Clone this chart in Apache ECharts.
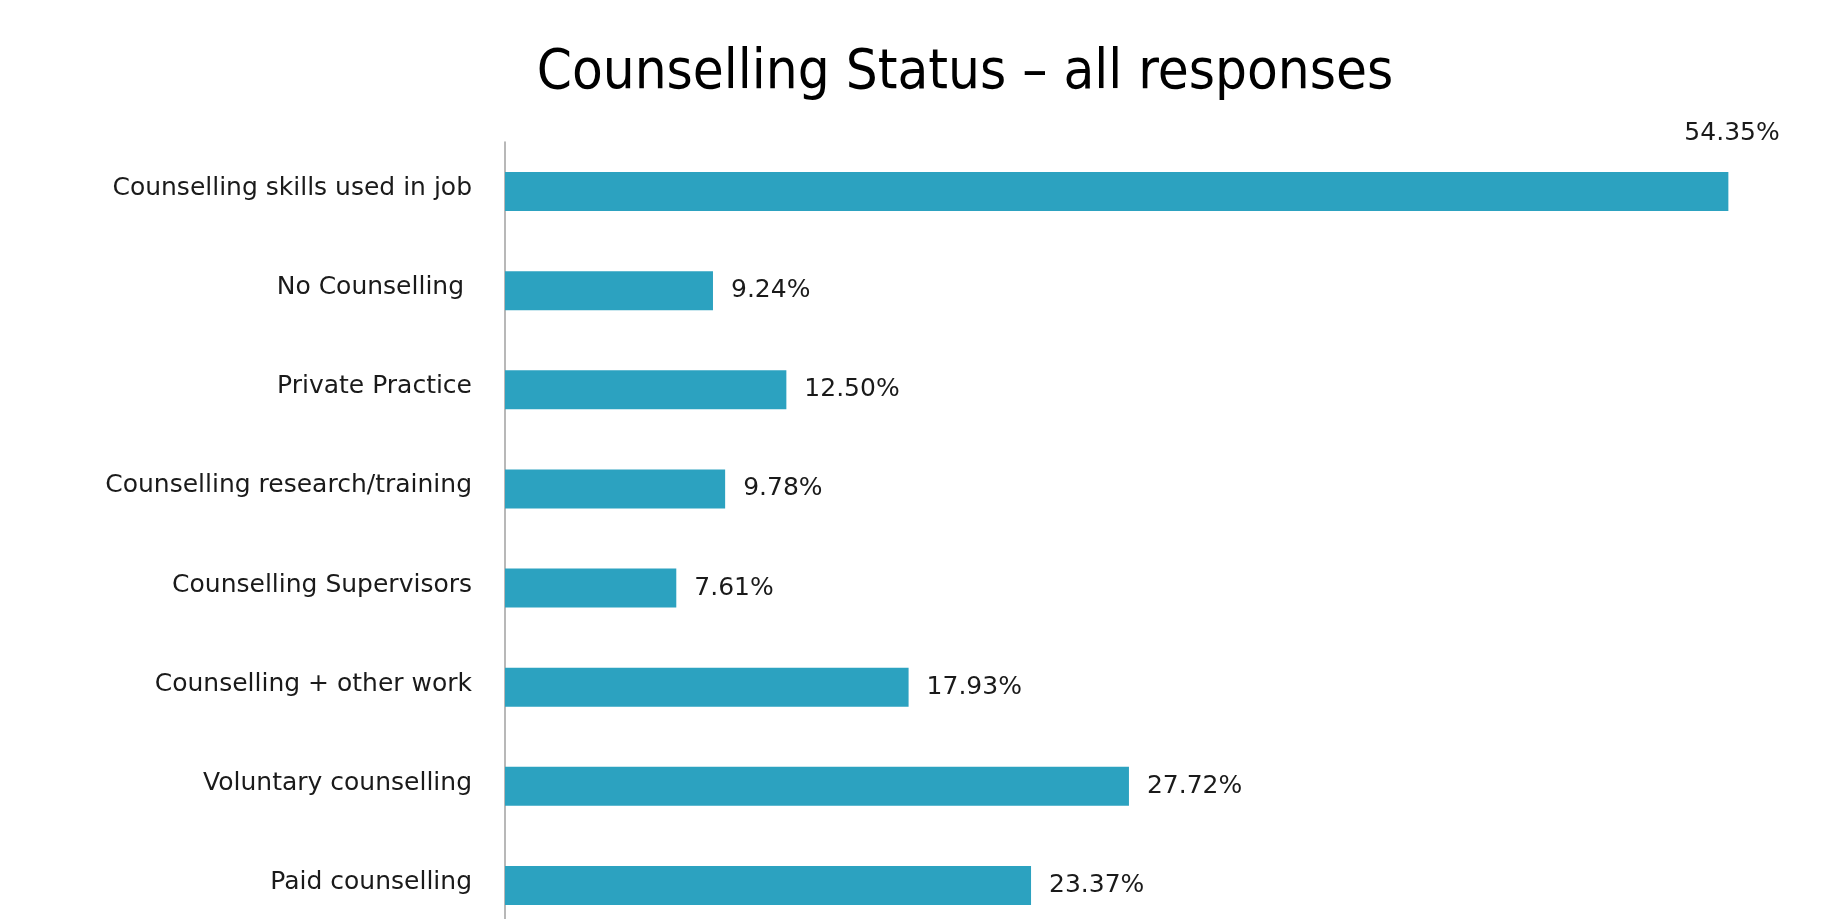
<!DOCTYPE html>
<html>
<head>
<meta charset="utf-8">
<script src="https://cdn.jsdelivr.net/npm/echarts@6/dist/echarts.min.js"></script>
<style>
  html, body { margin: 0; padding: 0; background: #fff; overflow: hidden; }
  /* taller than the window: the last category band runs past the bottom edge */
  #chart { width: 1832px; height: 940px; }
</style>
</head>
<body>
<div id="chart"></div>
<script>
// categories listed bottom to top (category axis starts at bottom)
const categories = [
  'Paid counselling',
  'Voluntary counselling',
  'Counselling + other work',
  'Counselling Supervisors',
  'Counselling research/training',
  'Private Practice',
  'No Counselling ',
  'Counselling skills used in job'
]
const values = [23.37, 27.72, 17.93, 7.61, 9.78, 12.5, 9.24, 54.35]

const barColor = '#2ca2c0'
const textColor = '#1a1a1a'

const chart = echarts.init(document.getElementById('chart'))

const seriesData = values.map((v, i) => {
  const item = { value: v }
  // the longest bar carries its label above the bar end
  if (i === values.length - 1) {
    item.label = { offset: [-62, -58] }
  }
  return item
})

chart.setOption({
  animation: false,
  title: {
    text: 'Counselling Status – all responses',
    left: 960,
    top: 40,
    textAlign: 'center',
    textStyle: {
      fontFamily: 'DejaVu Sans Condensed',
      fontSize: 56,
      fontWeight: 'normal',
      color: '#000'
    }
  },
  grid: {
    left: 505,
    top: 142,
    width: 1238,
    height: 793,
    containLabel: false
  },
  xAxis: {
    type: 'value',
    min: 0,
    max: 55,
    show: false
  },
  yAxis: {
    type: 'category',
    data: categories,
    axisLine: { show: true, lineStyle: { color: '#a0a0a0', width: 1.5 } },
    axisTick: { show: false },
    axisLabel: {
      margin: 33,
      verticalAlign: 'bottom',
      lineHeight: 6,
      fontFamily: 'DejaVu Sans',
      fontSize: 25,
      color: textColor
    }
  },
  series: [
    {
      type: 'bar',
      data: seriesData,
      barWidth: 39,
      itemStyle: { color: barColor },
      label: {
        show: true,
        position: 'right',
        distance: 18,
        fontFamily: 'DejaVu Sans',
        fontSize: 25,
        color: textColor,
        formatter: p => p.value.toFixed(2) + '%'
      }
    }
  ]
})
</script>
</body>
</html>
